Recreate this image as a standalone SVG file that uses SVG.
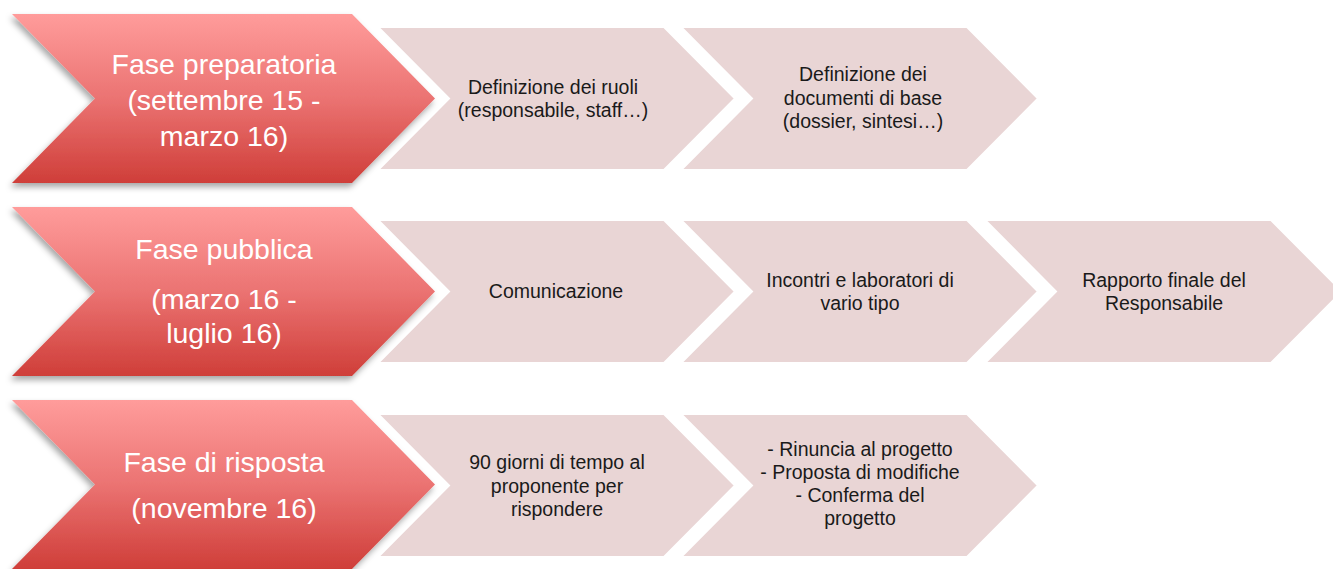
<svg xmlns="http://www.w3.org/2000/svg" width="1333" height="569" viewBox="0 0 1333 569">
<defs>
<linearGradient id="rg" x1="0" y1="0" x2="0" y2="1">
<stop offset="0" stop-color="#FF9C9B"/>
<stop offset="0.5" stop-color="#EB7372"/>
<stop offset="1" stop-color="#CF3E39"/>
</linearGradient>
<filter id="sh" x="-10%" y="-10%" width="120%" height="130%">
<feDropShadow dx="-2" dy="4" stdDeviation="3" flood-color="#000" flood-opacity="0.35"/>
</filter>
<path id="red" d="M0,0 H340 L423,84.5 L340,169 H0 L83,84.5 Z"/>
<path id="pink" d="M0,0 H286 L357,71.5 L286,143 H0 L71,71.5 Z"/>
</defs>
<style>
.r{fill:url(#rg);filter:url(#sh)}
.p{fill:#E9D5D5;stroke:#fff;stroke-width:2}
.rt{font-family:"Liberation Sans",Arial,sans-serif;font-size:28.5px;fill:#fff;text-anchor:middle}
.pt{font-family:"Liberation Sans",Arial,sans-serif;font-size:19.5px;fill:#1a1a1a;text-anchor:middle}
</style>
<rect width="1333" height="569" fill="#fff"/>
<g id="connectors"></g>

<g id="row1-p2" transform="translate(681,27)"><use href="#pink" class="p"/></g>
<g id="row1-p1" transform="translate(378,27)"><use href="#pink" class="p"/></g>
<g id="row1-phase" transform="translate(12,14)"><use href="#red" class="r"/></g>
<g id="row1-t">
<text class="rt" x="224" y="74">Fase preparatoria</text>
<text class="rt" x="224" y="110">(settembre 15 -</text>
<text class="rt" x="224" y="146">marzo 16)</text>
<text class="pt" x="553" y="94">Definizione dei ruoli</text>
<text class="pt" x="553" y="117">(responsabile, staff…)</text>
<text class="pt" x="863" y="81">Definizione dei</text>
<text class="pt" x="863" y="105">documenti di base</text>
<text class="pt" x="863" y="128">(dossier, sintesi…)</text>
</g>

<g id="row2-p3" transform="translate(985,220)"><use href="#pink" class="p"/></g>
<g id="row2-p2" transform="translate(681,220)"><use href="#pink" class="p"/></g>
<g id="row2-p1" transform="translate(378,220)"><use href="#pink" class="p"/></g>
<g id="row2-phase" transform="translate(12,207)"><use href="#red" class="r"/></g>
<g id="row2-t">
<text class="rt" x="224" y="259">Fase pubblica</text>
<text class="rt" x="224" y="309">(marzo 16 -</text>
<text class="rt" x="224" y="343">luglio 16)</text>
<text class="pt" x="556" y="298">Comunicazione</text>
<text class="pt" x="860" y="287">Incontri e laboratori di</text>
<text class="pt" x="860" y="310">vario tipo</text>
<text class="pt" x="1164" y="287">Rapporto finale del</text>
<text class="pt" x="1164" y="310">Responsabile</text>
</g>

<g id="row3-p2" transform="translate(681,414)"><use href="#pink" class="p"/></g>
<g id="row3-p1" transform="translate(378,414)"><use href="#pink" class="p"/></g>
<g id="row3-phase" transform="translate(12,400)"><use href="#red" class="r"/></g>
<g id="row3-t">
<text class="rt" x="224" y="472">Fase di risposta</text>
<text class="rt" x="224" y="518">(novembre 16)</text>
<text class="pt" x="557" y="469">90 giorni di tempo al</text>
<text class="pt" x="557" y="493">proponente per</text>
<text class="pt" x="557" y="516">rispondere</text>
<text class="pt" x="860" y="456">- Rinuncia al progetto</text>
<text class="pt" x="860" y="479">- Proposta di modifiche</text>
<text class="pt" x="860" y="502">- Conferma del</text>
<text class="pt" x="860" y="525">progetto</text>
</g>
</svg>
